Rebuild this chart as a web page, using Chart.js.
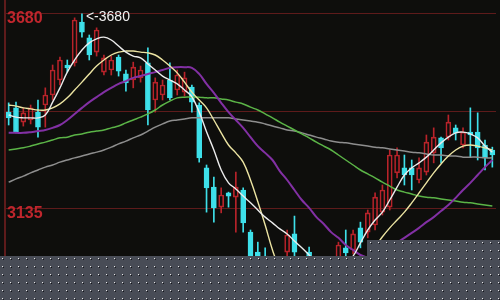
<!DOCTYPE html>
<html>
<head>
<meta charset="utf-8">
<style>
  html, body { margin: 0; padding: 0; background: #0e0e0c; }
  #wrap { position: relative; width: 500px; height: 300px; }
  canvas { display: block; }
</style>
<script src="https://cdn.jsdelivr.net/npm/chart.js@4.4.1/dist/chart.umd.min.js"></script>
</head>
<body>
<div id="wrap"><canvas id="kline" width="500" height="300"></canvas></div>
<script>
/* ── Data ─────────────────────────────────────────────── */
const days = Array.from({length: 67}, (_, i) => 'D' + (i + 1));

const open  = [3405,3417,3377,3383,3405,3425,3453,3495,3537,3543,3657,3613,3573,3517,3523,3559,3512,3495,3501,3543,
               3439,3453,3495,3467,3461,3475,3425,3249,3195,3139,3179,3167,3187,3069,3013,3002,2941,2949,3013,3064,
               2991,3013,2977,2949,2957,2985,3025,3019,3081,3069,3089,3125,3139,3235,3249,3249,3215,3237,3291,3333,
               3335,3361,3313,3349,3349,3313,3299];
const high  = [3431,3433,3417,3425,3439,3473,3537,3559,3551,3669,3680,3621,3641,3565,3562,3565,3523,3545,3534,3585,
               3501,3495,3543,3523,3517,3481,3431,3257,3223,3193,3181,3237,3193,3075,3041,3025,2985,2997,3075,3114,
               2997,3027,2991,2997,2997,3041,3075,3075,3097,3131,3179,3201,3299,3305,3285,3271,3277,3341,3361,3335,
               3397,3369,3361,3417,3403,3327,3307];
const low   = [3369,3347,3366,3372,3335,3363,3439,3481,3517,3534,3615,3551,3562,3509,3509,3506,3464,3473,3489,3369,
               3405,3439,3439,3453,3450,3405,3265,3125,3097,3123,3139,3069,3069,2963,2935,2918,2921,2935,3002,2997,
               2946,2949,2921,2929,2946,2977,2997,3008,3025,3053,3075,3117,3131,3221,3201,3187,3207,3229,3263,3263,
               3327,3327,3305,3279,3271,3243,3251];
const close = [3389,3349,3403,3417,3363,3453,3523,3551,3529,3663,3629,3565,3635,3557,3551,3520,3487,3531,3523,3411,
               3489,3481,3445,3509,3501,3433,3277,3193,3137,3173,3170,3195,3095,2985,2949,2935,2969,2991,3061,3013,
               2957,2963,2935,2985,2991,3033,3011,3064,3041,3123,3167,3187,3285,3285,3229,3229,3249,3321,3335,3305,
               3377,3347,3349,3341,3305,3277,3285];

const ma5  = [3397,3391,3389,3389,3389,3397,3433,3473,3517,3551,3579,3599,3610,3615,3607,3590,3573,3562,3557,3540,
              3523,3506,3495,3484,3467,3448,3405,3350,3299,3243,3207,3190,3170,3151,3131,3111,3095,3078,3064,3044,
              3025,3005,2985,2969,2963,2969,2983,3002,3039,3075,3103,3125,3159,3195,3229,3249,3263,3279,3299,3319,
              3335,3347,3349,3344,3333,3310,3293];
const ma10 = [3425,3422,3417,3414,3411,3411,3417,3428,3445,3467,3489,3512,3534,3551,3565,3573,3576,3576,3573,3571,
              3565,3551,3534,3515,3489,3461,3439,3417,3383,3347,3313,3291,3265,3215,3154,3089,3019,2963,2929,2907,
              2896,2890,2890,2893,2899,2907,2921,2941,2969,3000,3028,3056,3081,3103,3125,3151,3179,3207,3235,3260,
              3282,3299,3310,3313,3310,3305,3299];
const ma20 = [3347,3347,3347,3349,3352,3355,3361,3369,3383,3400,3417,3433,3447,3461,3473,3484,3492,3501,3506,3512,
              3517,3523,3529,3531,3531,3529,3512,3484,3459,3431,3405,3383,3361,3335,3310,3291,3271,3240,3215,3187,
              3159,3137,3111,3092,3069,3053,3033,3019,3005,2997,2991,2997,3019,3039,3053,3067,3081,3097,3111,3128,
              3145,3165,3187,3207,3229,3251,3271];
const ma30 = [3299,3302,3305,3310,3316,3321,3327,3333,3335,3341,3344,3349,3352,3355,3361,3366,3375,3383,3391,3400,
              3411,3425,3436,3445,3447,3447,3447,3445,3445,3442,3439,3433,3428,3419,3411,3400,3389,3377,3366,3355,
              3344,3333,3321,3310,3299,3285,3271,3257,3243,3232,3221,3209,3198,3187,3181,3176,3170,3167,3165,3162,
              3159,3156,3153,3151,3148,3145,3142];
const ma60 = [3209,3218,3226,3235,3243,3251,3257,3265,3271,3277,3282,3288,3293,3299,3307,3316,3324,3333,3341,3352,
              3363,3372,3380,3383,3386,3389,3389,3389,3389,3389,3389,3386,3383,3380,3377,3372,3366,3361,3355,3352,
              3347,3341,3335,3330,3324,3321,3319,3316,3313,3310,3307,3305,3302,3299,3296,3293,3291,3288,3285,3285,
              3282,3282,3279,3279,3279,3277,3277];

const yTicks      = [3135, 3408, 3680];
const yTickLabels = ['3135', '', '3680'];
const peakIndex   = 10;
const peakLabel   = '<-3680';

/* ── Colours ──────────────────────────────────────────── */
const UP = '#b8232a', DOWN = '#3ee0ea';
const isUp = days.map((_, i) => close[i] >= open[i]);
const candleColor = isUp.map(u => u ? UP : DOWN);

const bodies     = days.map((_, i) => [open[i], close[i]]);
const upperWicks = days.map((_, i) => [Math.max(open[i], close[i]), high[i]]);
const lowerWicks = days.map((_, i) => [low[i], Math.min(open[i], close[i])]);

function maLine(data, color, width) {
  return { type: 'line', data, borderColor: color, borderWidth: width,
           pointRadius: 0, tension: 0.4, fill: false };
}

/* peak marker text */
const peakText = {
  id: 'peakText',
  afterDatasetsDraw(chart) {
    const c = chart.ctx, x = chart.scales.x, y = chart.scales.y;
    c.save();
    c.fillStyle = '#f2f2f2';
    c.font = '14px "Liberation Sans", Arial, sans-serif';
    c.textBaseline = 'middle';
    c.fillText(peakLabel, x.getPixelForValue(peakIndex) + 4, y.getPixelForValue(high[peakIndex]) + 3.5);
    c.restore();
  }
};

/* dotted grey band over the bottom of the picture */
const screenBand = {
  id: 'screenBand',
  afterDraw(chart) {
    const c = chart.ctx;
    c.save();
    c.fillStyle = '#484c56';
    c.fillRect(0, 256, 367, 44);
    c.fillRect(367, 240, 133, 60);
    for (let y = 242; y < 300; y += 8) {
      for (let x = 2; x < 500; x += 8) {
        if (x < 367 && y < 256) continue;
        c.fillStyle = '#e6e6e6'; c.fillRect(x, y, 1, 1);
        c.fillStyle = '#15161a'; c.fillRect(x + 1, y + 1, 1, 1);
      }
    }
    c.restore();
  }
};

/* ── Chart ────────────────────────────────────────────── */
new Chart(document.getElementById('kline').getContext('2d'), {
  type: 'bar',
  data: {
    labels: days,
    datasets: [
      maLine(ma5,  '#ececec', 1.4),
      maLine(ma10, '#ece4a2', 1.4),
      maLine(ma20, '#8230a4', 2),
      maLine(ma30, '#5bb447', 1.5),
      maLine(ma60, '#8e8e8e', 1.5),
      { data: bodies, backgroundColor: isUp.map(u => u ? 'rgba(0,0,0,0)' : DOWN),
        borderColor: candleColor, borderWidth: 1, borderSkipped: false,
        barThickness: 5, grouped: false },
      { data: upperWicks, backgroundColor: candleColor, borderWidth: 0, barThickness: 1, grouped: false },
      { data: lowerWicks, backgroundColor: candleColor, borderWidth: 0, barThickness: 1, grouped: false }
    ]
  },
  options: {
    responsive: false,
    animation: false,
    layout: { padding: { left: 1, right: 4, top: 0, bottom: 0 } },
    plugins: { legend: { display: false }, tooltip: { enabled: false } },
    scales: {
      x: { display: false, offset: true },
      y: {
        min: 2879, max: 3719,
        afterBuildTicks: s => { s.ticks = yTicks.map(v => ({ value: v })); },
        afterFit: s => { s.paddingTop = 0; s.paddingBottom = 0; },
        ticks: {
          mirror: true, padding: 2, labelOffset: 5,
          color: '#c0262d',
          font: { family: '"Liberation Sans", Arial, sans-serif', size: 16, weight: 'bold' },
          callback: v => yTickLabels[yTicks.indexOf(v)]
        },
        grid: { color: '#5e1b1b', lineWidth: 1, drawTicks: false },
        border: { display: true, color: '#5e1b1b', width: 2 }
      }
    }
  },
  plugins: [peakText, screenBand]
});
</script>
</body>
</html>
